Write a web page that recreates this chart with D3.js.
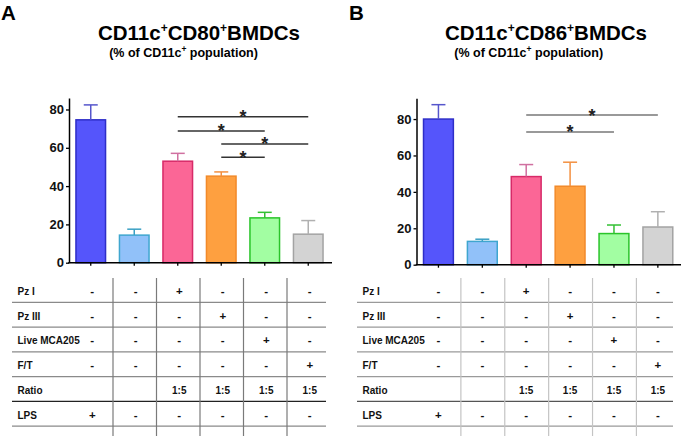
<!DOCTYPE html>
<html>
<head>
<meta charset="utf-8">
<script src="https://cdn.jsdelivr.net/npm/d3@7"></script>
<style>
  html, body { margin: 0; padding: 0; background: #fff; }
  svg text { font-family: "Liberation Sans", Arial, sans-serif; font-weight: bold; }
</style>
</head>
<body>
<svg id="chart" width="685" height="438"></svg>
<script>
// ---------- data ----------
const conditions = ["LPS", "Medium", "Pz I", "Pz III", "Live MCA205", "F/T"];
const yTicks = [0, 20, 40, 60, 80];

const cd80Means = [74.6, 14.4, 53.0, 45.2, 23.4, 14.9];
const cd80Sem   = [7.8, 3.1, 4.1, 2.2, 2.9, 7.1];
const cd80Sig   = [[2, 5, 76.2], [2, 4, 68.8], [3, 5, 62.0], [3, 4, 55.0]];

const cd86Means = [80.0, 12.8, 48.4, 43.1, 17.1, 20.7];
const cd86Sem   = [7.9, 1.2, 6.6, 13.2, 4.7, 8.4];
const cd86Sig   = [[2, 5, 82.2], [2, 4, 72.9]];

const rowLabels = ["Pz I", "Pz III", "Live MCA205", "F/T", "Ratio", "LPS"];
const rowPzI    = ["-", "-", "+", "-", "-", "-"];
const rowPzIII  = ["-", "-", "-", "+", "-", "-"];
const rowLive   = ["-", "-", "-", "-", "+", "-"];
const rowFT     = ["-", "-", "-", "-", "-", "+"];
const rowRatio  = ["", "", "1:5", "1:5", "1:5", "1:5"];
const rowLPS    = ["+", "-", "-", "-", "-", "-"];
const tableRows = [rowPzI, rowPzIII, rowLive, rowFT, rowRatio, rowLPS];

// ---------- styles ----------
const fills   = ["#5555fb", "#91c1f9", "#fb6696", "#fea040", "#a2fea2", "#d3d3d3"];
const strokes = ["#2e2ec8", "#3fa6cf", "#d72a68", "#f28a2a", "#2ac42a", "#a3a3a3"];
const errCols = ["#5656cc", "#3aa0c4", "#d070a0", "#f39040", "#33c033", "#b0b0b0"];

const svg = d3.select("#chart");

function drawPanel(p) {
  const g = svg.append("g");

  // panel letter
  g.append("text").attr("x", p.letterX).attr("y", 19.5).attr("font-size", 20.5).text(p.letter);

  // title
  const t = g.append("text").attr("x", p.titleX).attr("y", 39.5).attr("font-size", 20.5)
    .attr("text-anchor", "middle");
  t.append("tspan").text("CD11c");
  t.append("tspan").attr("font-size", 12).attr("dy", -7.5).text("+");
  t.append("tspan").attr("dy", 7.5).text(p.marker);
  t.append("tspan").attr("font-size", 12).attr("dy", -7.5).text("+");
  t.append("tspan").attr("dy", 7.5).text("BMDCs");

  const s = g.append("text").attr("x", p.subX).attr("y", 57).attr("font-size", 12.5)
    .attr("text-anchor", "middle");
  s.append("tspan").text("(% of CD11c");
  s.append("tspan").attr("font-size", 8.5).attr("dy", -5).text("+");
  s.append("tspan").attr("dy", 5).text(" population)");

  const x = d3.scaleBand().domain(conditions).range(p.xRange)
    .paddingInner(0.32).paddingOuter(0.16);
  const y = d3.scaleLinear().domain(p.yDomain).range(p.yRange);
  const cxOf = c => x(c) + x.bandwidth() / 2;

  // bars
  const bars = g.append("g");
  conditions.forEach((c, i) => {
    const v = p.means[i], e = p.sem[i];
    const cx = cxOf(c);
    bars.append("rect")
      .attr("x", x(c)).attr("y", y(v))
      .attr("width", x.bandwidth()).attr("height", y(0) - y(v))
      .attr("fill", fills[i]).attr("stroke", strokes[i]).attr("stroke-width", 1.5);
    bars.append("line").attr("x1", cx).attr("x2", cx).attr("y1", y(v)).attr("y2", y(v + e))
      .attr("stroke", errCols[i]).attr("stroke-width", 1.5);
    bars.append("line").attr("x1", cx - 7).attr("x2", cx + 7).attr("y1", y(v + e)).attr("y2", y(v + e))
      .attr("stroke", errCols[i]).attr("stroke-width", 1.5);
  });

  // y axis
  const ya = g.append("g").attr("transform", `translate(${p.xRange[0]},0)`)
    .call(d3.axisLeft(y).tickValues(yTicks).tickSize(3).tickSizeOuter(0).tickPadding(2));
  ya.select(".domain").attr("stroke", "#000").attr("stroke-width", 1.5);
  ya.selectAll(".tick line").attr("stroke", "#000").attr("stroke-width", 1.3);
  ya.selectAll(".tick text").attr("font-size", 13).attr("fill", "#111")
    .style("font-family", '"Liberation Sans", Arial, sans-serif').style("font-weight", "bold");

  // x axis
  const xa = g.append("g").attr("transform", `translate(0,${y(0)})`)
    .call(d3.axisBottom(x).tickSize(3).tickSizeOuter(0).tickFormat(""));
  xa.select(".domain").remove();
  xa.selectAll(".tick line").attr("stroke", "#000").attr("stroke-width", 1.3);
  g.append("line").attr("x1", p.xRange[0] - 0.75).attr("x2", p.xAxisEnd)
    .attr("y1", y(0)).attr("y2", y(0)).attr("stroke", "#000").attr("stroke-width", 1.5);

  // significance
  p.sig.forEach(([a, b, v]) => {
    const x1 = cxOf(conditions[a]);
    const x2 = cxOf(conditions[b]);
    g.append("line").attr("x1", x1).attr("x2", x2).attr("y1", y(v)).attr("y2", y(v))
      .attr("stroke", p.sigColor).attr("stroke-width", 1.5);
    g.append("text").attr("x", (x1 + x2) / 2).attr("y", y(v) + 6.5)
      .attr("text-anchor", "middle").attr("font-size", 18).attr("fill", "#222").text("*");
  });

  // table
  const tb = g.append("g");
  const lineYs = d3.range(6).map(i => 302.3 + i * 24.75);
  lineYs.forEach((ly, i) => {
    tb.append("line").attr("x1", p.tableX0).attr("x2", p.tableX1).attr("y1", ly).attr("y2", ly)
      .attr("stroke", i === 4 ? p.ratioLine : p.hLine).attr("stroke-width", 1.2);
  });
  for (let i = 0; i < conditions.length - 1; i++) {
    const vx = cxOf(conditions[i]) + x.step() / 2 + 0.5;
    tb.append("line").attr("x1", vx).attr("x2", vx).attr("y1", 278).attr("y2", 436)
      .attr("stroke", p.vLine).attr("stroke-width", 1.2);
  }
  rowLabels.forEach((lab, r) => {
    const by = lineYs[r] - 7.5;
    tb.append("text").attr("x", p.tableX0 + 5.5).attr("y", by).attr("font-size", 10).attr("fill", "#111").text(lab);
    tableRows[r].forEach((m, c) => {
      if (!m) return;
      const cx = cxOf(conditions[c]) + p.markShift;
      tb.append("text").attr("x", cx).attr("y", by).attr("text-anchor", "middle")
        .attr("font-size", m === "1:5" ? 10 : 11.5).attr("fill", "#111").text(m);
    });
  });
}

drawPanel({
  letter: "A", letterX: 1, marker: "CD80", titleX: 199, subX: 183.5,
  means: cd80Means, sem: cd80Sem, sig: cd80Sig,
  xRange: [69, 330], xAxisEnd: 332, yDomain: [0, 86], yRange: [262.7, 98],
  sigColor: "#333", tableX0: 12, tableX1: 326,
  hLine: "#8a8a8a", vLine: "#7a7a7a", ratioLine: "#222", markShift: 1.5
});

drawPanel({
  letter: "B", letterX: 349, marker: "CD86", titleX: 546, subX: 528.7,
  means: cd86Means, sem: cd86Sem, sig: cd86Sig,
  xRange: [416.5, 679.8], xAxisEnd: 681, yDomain: [0, 91.4], yRange: [264.7, 98.3],
  sigColor: "#777", tableX0: 357, tableX1: 673,
  hLine: "#9a9a9a", vLine: "#c4c4c4", ratioLine: "#555", markShift: 0
});
</script>
</body>
</html>
